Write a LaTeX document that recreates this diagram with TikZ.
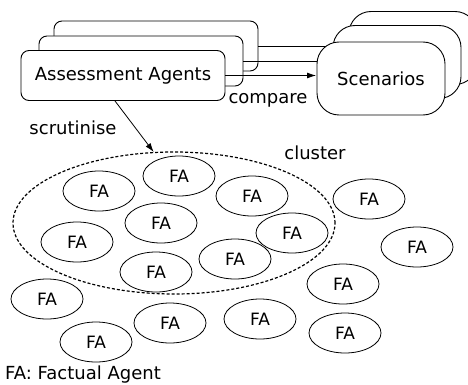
\documentclass[tikz,border=0pt]{standalone}
\usepackage{fontspec}
\setmainfont{DejaVu Sans}
\usetikzlibrary{shapes.geometric,arrows.meta,calc}
\begin{document}
\begin{tikzpicture}[x=1pt,y=-1pt,
  agentbox/.style={draw,fill=white,rounded corners=8pt,minimum width=204pt,minimum height=50pt,line width=0.9pt,inner sep=0pt},
  scenbox/.style={draw,fill=white,rounded corners=22pt,minimum width=128pt,minimum height=73pt,line width=0.9pt,inner sep=0pt},
  fa/.style={draw,ellipse,minimum width=72pt,minimum height=40pt,inner sep=0pt,line width=0.8pt,font=\fontsize{17}{19}\selectfont},
  lbl/.style={font=\fontsize{18}{20}\selectfont,inner sep=0pt},
  conn/.style={line width=0.8pt},
  tip/.style={-{Latex[length=9pt,width=6pt]}}
]
\useasboundingbox (0,0) rectangle (468,385);
% assessment agents stack
\node[agentbox] (ab) at (156,46) {};
\node[agentbox] (am) at (141,61) {};
\node[agentbox,font=\fontsize{18}{20}\selectfont] (af) at (123,75.5) {Assessment Agents};
% connectors
\draw[conn] (ab.east) -- ++(70,0) coordinate (e1);
\draw[conn] (am.east) -- ++(80,0) coordinate (e2);
\draw[conn,tip] (af.east) -- (af.east -| 316,0) coordinate (e3);
% scenarios stack
\node[scenbox] (sb) at (413,48) {};
\node[scenbox] (sm) at (397,62) {};
\node[scenbox,font=\fontsize{18}{20}\selectfont] (sf) at (381,78.5) {Scenarios};
% labels
\node[lbl] (cmp) at (268,100) {compare};
\node[lbl] (scr) at (73,128) {scrutinise};
\node[lbl] (clt) at (315,153) {cluster};
% cluster
\node[draw,ellipse,dash pattern=on 3pt off 2pt,line width=1.2pt,minimum width=322pt,minimum height=142pt,inner sep=0pt] (cl) at (174,223) {};
\draw[conn,tip] ($(af.south)+(-8,0)$) -- (cl.106);
% factual agents
\node[fa] (f1) at (99,191) {FA};
\node[fa] (f2) at (179,176) {FA};
\node[fa] (f3) at (252,196) {FA};
\node[fa] (f4) at (161,223) {FA};
\node[fa] (f5) at (77,242) {FA};
\node[fa] (f6) at (292,233) {FA};
\node[fa] (f7) at (235,259) {FA};
\node[fa] (f8) at (156,272) {FA};
\node[fa] (f9) at (369,199) {FA};
\node[fa] (f10) at (417,247) {FA};
\node[fa] (f11) at (343,284) {FA};
\node[fa] (f12) at (47,299) {FA};
\node[fa] (f13) at (170,323) {FA};
\node[fa] (f14) at (260,319) {FA};
\node[fa] (f15) at (345,333) {FA};
\node[fa] (f16) at (96,342) {FA};
\node[lbl,anchor=base west] (leg) at (5,379.5) {FA: Factual Agent};
\end{tikzpicture}
\end{document}
